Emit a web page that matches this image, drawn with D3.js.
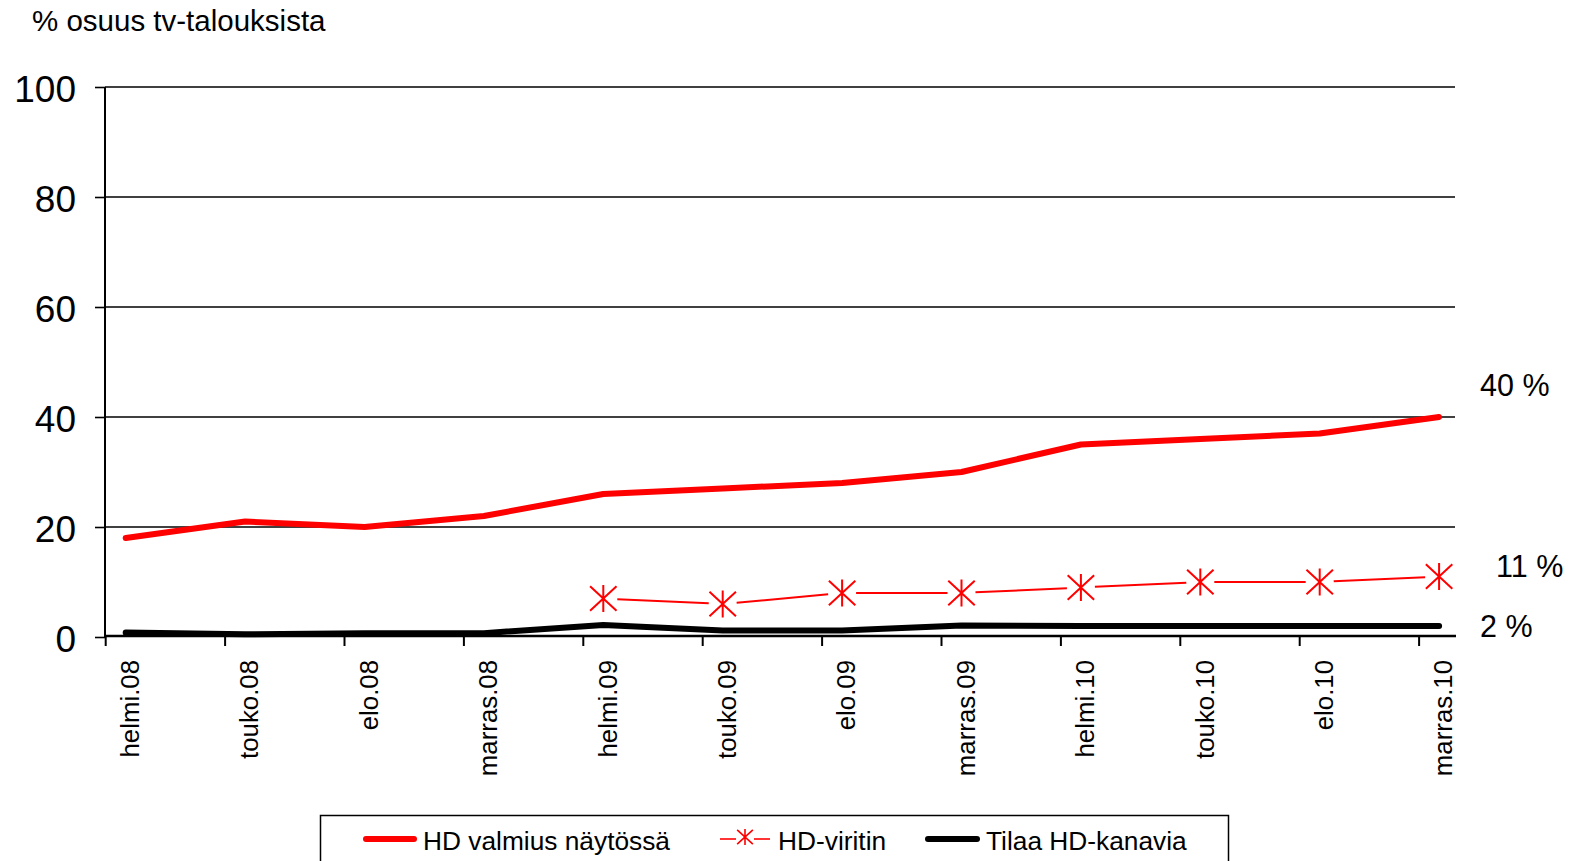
<!DOCTYPE html>
<html>
<head>
<meta charset="utf-8">
<script src="https://cdn.jsdelivr.net/npm/d3@7"></script>
<style>
  html, body { margin: 0; padding: 0; background: #fff; }
  svg { display: block; font-family: "Liberation Sans", Arial, sans-serif; }
</style>
</head>
<body>
<svg id="chart" width="1571" height="861"></svg>
<script>
// ---- data ----
const categories = ["helmi.08","touko.08","elo.08","marras.08","helmi.09","touko.09","elo.09","marras.09","helmi.10","touko.10","elo.10","marras.10"];
const hdValmius = [18, 21, 20, 22, 26, 27, 28, 30, 35, 36, 37, 40];
const hdViritin = [null, null, null, null, 7, 6, 8, 8, 9, 10, 10, 11];
const tilaaHD   = [0.8, 0.5, 0.7, 0.7, 2.2, 1.2, 1.2, 2.1, 2, 2, 2, 2];
const yTicks = [0, 20, 40, 60, 80, 100];
const seriesNames = ["HD valmius näytössä", "HD-viritin", "Tilaa HD-kanavia"];
const endLabels = ["40 %", "11 %", "2 %"];
const titleText = "% osuus tv-talouksista";

// ---- layout ----
const svg = d3.select("#chart");
const plotLeft = 105, plotRight = 1455, plotTop = 87, plotBottom = 637;
const step = 119.4;
const x = d3.scalePoint().domain(categories).range([125.7, 125.7 + step * 11]);
const tickOffset = -20;
const y = d3.scaleLinear().domain([0, 100]).range([plotBottom, plotTop]);

// title
svg.append("text").attr("x", 32).attr("y", 31).attr("font-size", 29.5).attr("fill", "#000").text(titleText);

// gridlines + y labels
const yAxis = d3.axisLeft(y).tickValues(yTicks).tickSize(10).tickFormat(d3.format("d"));
const gy = svg.append("g").attr("transform", `translate(${plotLeft},0)`).call(yAxis);
gy.select(".domain").remove();
gy.selectAll(".tick line").attr("stroke", "#000").attr("stroke-width", 1.6);
gy.selectAll(".tick text").attr("font-size", 37).attr("fill", "#000").attr("x", -29)
  .attr("font-family", "Liberation Sans, Arial, sans-serif").attr("dy", "0.38em");

svg.append("g").selectAll("line").data(yTicks.filter(d => d > 0)).join("line")
  .attr("x1", plotLeft).attr("x2", plotRight)
  .attr("y1", d => y(d)).attr("y2", d => y(d))
  .attr("stroke", "#000").attr("stroke-width", 1.6);

// y axis line
svg.append("line").attr("x1", plotLeft).attr("x2", plotLeft).attr("y1", plotTop).attr("y2", plotBottom)
  .attr("stroke", "#000").attr("stroke-width", 2);

// x axis
svg.append("line").attr("x1", plotLeft).attr("x2", plotRight + 1).attr("y1", plotBottom - 1).attr("y2", plotBottom - 1)
  .attr("stroke", "#000").attr("stroke-width", 2.4);
svg.append("g").selectAll("line").data(categories).join("line")
  .attr("x1", d => x(d) + tickOffset).attr("x2", d => x(d) + tickOffset)
  .attr("y1", plotBottom - 1).attr("y2", plotBottom + 9)
  .attr("stroke", "#000").attr("stroke-width", 2);
svg.append("g").selectAll("text").data(categories).join("text")
  .attr("transform", d => `translate(${x(d) + 4},660) rotate(-90)`)
  .attr("text-anchor", "end").attr("dy", "0.36em")
  .attr("font-size", 25.8).attr("fill", "#000").text(d => d);

// lines
const line = d3.line().defined(d => d.v != null).x(d => x(d.c)).y(d => y(d.v));
const toPts = arr => categories.map((c, i) => ({c, v: arr[i]}));

svg.append("path").datum(toPts(tilaaHD)).attr("d", line)
  .attr("fill", "none").attr("stroke", "#000").attr("stroke-width", 6)
  .attr("stroke-linecap", "round").attr("stroke-linejoin", "round");

svg.append("path").datum(toPts(hdValmius)).attr("d", line)
  .attr("fill", "none").attr("stroke", "#ff0000").attr("stroke-width", 6)
  .attr("stroke-linecap", "round").attr("stroke-linejoin", "round");

// HD-viritin: thin line with gaps at markers
const vPts = toPts(hdViritin).filter(d => d.v != null);
const gap = 14;
const segs = d3.pairs(vPts).map(([a, b]) => {
  const x1 = x(a.c), y1 = y(a.v), x2 = x(b.c), y2 = y(b.v);
  const L = Math.hypot(x2 - x1, y2 - y1), ux = (x2 - x1) / L, uy = (y2 - y1) / L;
  return [x1 + ux * gap, y1 + uy * gap, x2 - ux * gap, y2 - uy * gap];
});
svg.append("g").selectAll("line").data(segs).join("line")
  .attr("x1", d => d[0]).attr("y1", d => d[1]).attr("x2", d => d[2]).attr("y2", d => d[3])
  .attr("stroke", "#ff0000").attr("stroke-width", 2);

function starPath(r) {
  const a = r * 0.98;
  return `M0,${-r}L0,${r}M${-a},${-r*0.9}L${a},${r*0.9}M${-a},${r*0.9}L${a},${-r*0.9}`;
}
svg.append("g").selectAll("path").data(vPts).join("path")
  .attr("transform", d => `translate(${x(d.c)},${y(d.v)})`)
  .attr("d", starPath(13.5)).attr("stroke", "#ff0000").attr("stroke-width", 2).attr("fill", "none");

// end labels
const endYOffsets = [-32, -10, 0];
const endX = [1480, 1496, 1480];
const lastVals = [hdValmius[11], hdViritin[11], tilaaHD[11]];
svg.append("g").selectAll("text").data(endLabels).join("text")
  .attr("x", (d, i) => endX[i]).attr("y", (d, i) => y(lastVals[i]) + endYOffsets[i])
  .attr("dy", "0.36em").attr("font-size", 30.5).attr("fill", "#000").text(d => d);

// legend
const lg = svg.append("g");
lg.append("rect").attr("x", 320.5).attr("y", 815.5).attr("width", 908).attr("height", 60)
  .attr("fill", "#fff").attr("stroke", "#000").attr("stroke-width", 1.5);
const legendY = 841;
// series 1
lg.append("line").attr("x1", 366).attr("x2", 414).attr("y1", legendY - 2).attr("y2", legendY - 2)
  .attr("stroke", "#ff0000").attr("stroke-width", 6).attr("stroke-linecap", "round");
lg.append("text").attr("x", 423).attr("y", legendY).attr("dy", "0.36em").attr("font-size", 26.3).text(seriesNames[0]);
// series 2
lg.append("line").attr("x1", 720).attr("x2", 736).attr("y1", legendY - 2).attr("y2", legendY - 2).attr("stroke", "#ff0000").attr("stroke-width", 1.6);
lg.append("line").attr("x1", 754).attr("x2", 770).attr("y1", legendY - 2).attr("y2", legendY - 2).attr("stroke", "#ff0000").attr("stroke-width", 1.6);
lg.append("path").attr("transform", `translate(745,${legendY - 4})`).attr("d", starPath(8))
  .attr("stroke", "#ff0000").attr("stroke-width", 1.6).attr("fill", "none");
lg.append("text").attr("x", 778).attr("y", legendY).attr("dy", "0.36em").attr("font-size", 26.3).text(seriesNames[1]);
// series 3
lg.append("line").attr("x1", 928).attr("x2", 977).attr("y1", legendY - 2).attr("y2", legendY - 2)
  .attr("stroke", "#000").attr("stroke-width", 6).attr("stroke-linecap", "round");
lg.append("text").attr("x", 986).attr("y", legendY).attr("dy", "0.36em").attr("font-size", 26.3).text(seriesNames[2]);
</script>
</body>
</html>
